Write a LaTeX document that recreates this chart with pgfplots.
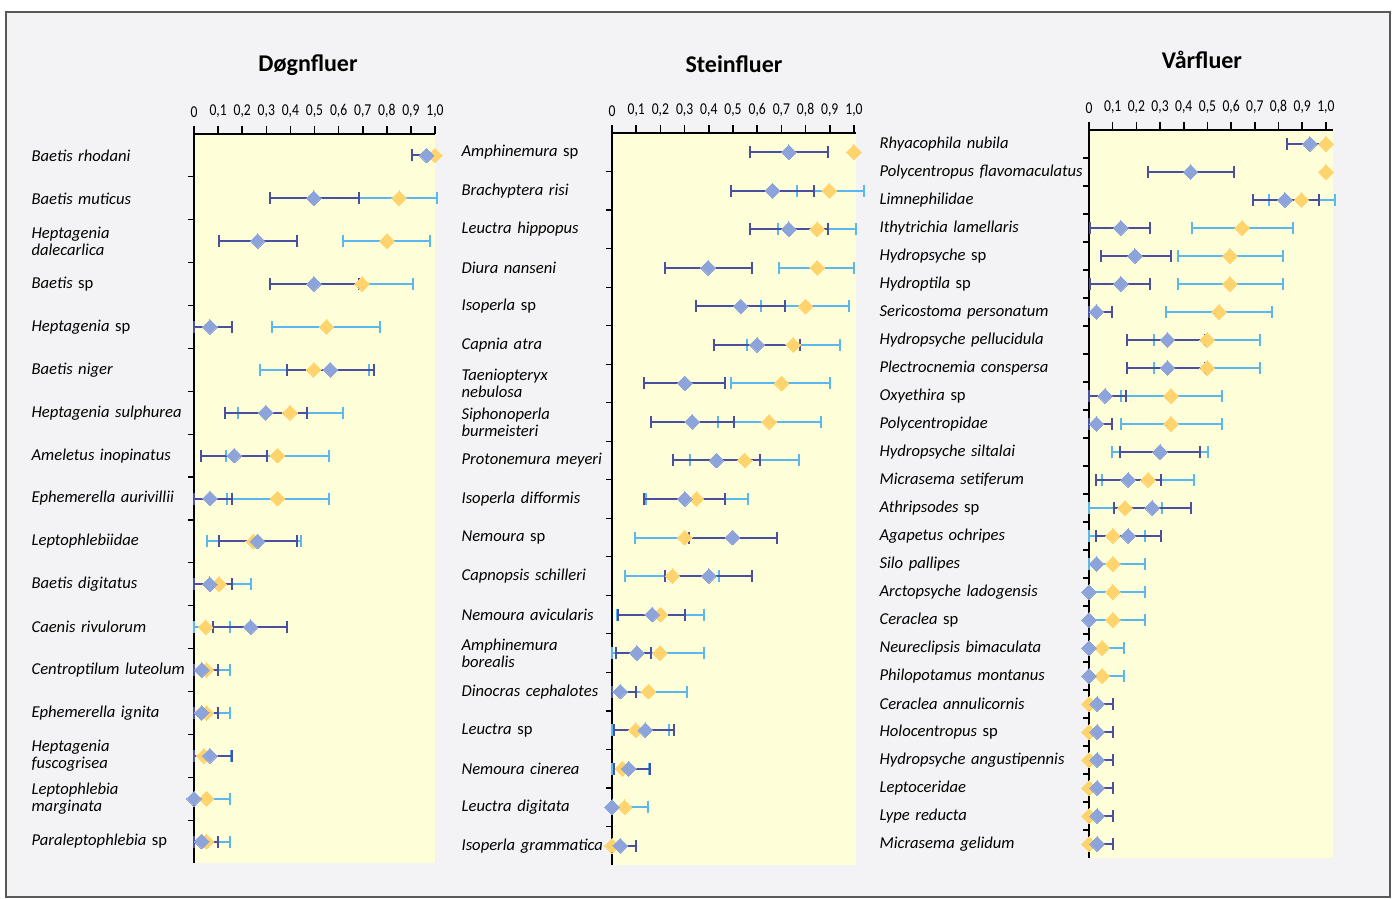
\documentclass[border=0pt]{standalone}
\usepackage{fontspec}
\setmainfont{Carlito}
\usepackage{graphicx}
\usepackage{pgfplots}
\usepackage{pgfplotstable}
\pgfplotsset{compat=1.18}
\definecolor{bgy}{HTML}{FEFED8}
\definecolor{framebg}{HTML}{F3F3F5}
\definecolor{bdia}{HTML}{8DA4DA}
\definecolor{bbar}{HTML}{4A50A0}
\definecolor{ydia}{HTML}{FFD46E}
\definecolor{ybar}{HTML}{5BB8EE}
\newcommand\sx[1]{\scalebox{0.82}[1]{#1}}

\pgfplotstableread{
r bm bl bh ym yl yh
1 0.965 0.905 1.0 1.0 1.0 1.0
2 0.497 0.315 0.684 0.851 0.684 1.01
3 0.264 0.104 0.428 0.801 0.619 0.978
4 0.497 0.315 0.685 0.698 0.685 0.909
5 0.066 0.0 0.156 0.55 0.323 0.773
6 0.566 0.384 0.746 0.497 0.273 0.727
7 0.298 0.130 0.467 0.398 0.181 0.619
8 0.167 0.029 0.302 0.347 0.133 0.562
9 0.066 0.0 0.157 0.347 0.135 0.562
10 0.264 0.104 0.428 0.246 0.055 0.442
11 0.066 0.0 0.157 0.104 0.0 0.235
12 0.235 0.079 0.387 0.048 0.0 0.148
13 0.032 0.0 0.098 0.052 0.0 0.149
14 0.032 0.0 0.098 0.052 0.0 0.149
15 0.066 0.0 0.156 0.041 0.0 0.152
16 0.0 0.0 0.0 0.052 0.0 0.149
17 0.032 0.0 0.098 0.052 0.0 0.149
}\tA

\pgfplotstableread{
r bm bl bh ym yl yh
1 0.731 0.570 0.892 1.0 1.0 1.0
2 0.663 0.490 0.836 0.898 0.763 1.04
3 0.731 0.570 0.892 0.848 0.688 1.008
4 0.397 0.218 0.577 0.848 0.690 1.0
5 0.532 0.349 0.714 0.800 0.617 0.978
6 0.600 0.421 0.777 0.749 0.556 0.942
7 0.301 0.131 0.466 0.701 0.491 0.901
8 0.332 0.160 0.505 0.650 0.436 0.862
9 0.432 0.250 0.612 0.549 0.324 0.772
10 0.301 0.131 0.468 0.349 0.140 0.561
11 0.498 0.317 0.683 0.301 0.094 0.317
12 0.400 0.221 0.579 0.250 0.055 0.441
13 0.166 0.025 0.303 0.201 0.020 0.379
14 0.103 0.018 0.160 0.199 0.0 0.379
15 0.034 0.0 0.100 0.150 0.0 0.310
16 0.138 0.007 0.255 0.098 0.0 0.236
17 0.069 0.010 0.159 0.043 0.0 0.152
18 0.0 0.0 0.0 0.052 0.0 0.149
19 0.034 0.0 0.100 0.0 0.0 0.0
}\tB

\pgfplotstableread{
r bm bl bh ym yl yh
1 0.932 0.837 1.0 1.0 1.0 1.0
2 0.429 0.248 0.612 1.0 1.0 1.0
3 0.827 0.693 0.970 0.897 0.759 1.04
4 0.134 0.004 0.257 0.647 0.433 0.862
5 0.194 0.051 0.345 0.595 0.374 0.817
6 0.134 0.004 0.257 0.595 0.374 0.817
7 0.032 0.0 0.096 0.549 0.323 0.774
8 0.331 0.159 0.490 0.499 0.274 0.722
9 0.331 0.159 0.490 0.499 0.274 0.722
10 0.068 0.0 0.156 0.346 0.135 0.561
11 0.032 0.0 0.098 0.346 0.135 0.563
12 0.300 0.131 0.470 0.300 0.096 0.504
13 0.166 0.030 0.302 0.250 0.053 0.443
14 0.267 0.105 0.429 0.152 0.0 0.309
15 0.166 0.030 0.302 0.100 0.0 0.236
16 0.032 0.032 0.032 0.100 0.0 0.236
17 0.0 0.0 0.0 0.100 0.0 0.236
18 0.0 0.0 0.0 0.100 0.0 0.236
19 0.0 0.0 0.0 0.056 0.0 0.149
20 0.0 0.0 0.0 0.056 0.0 0.149
21 0.035 0.0 0.100 0.0 0.0 0.0
22 0.035 0.0 0.100 0.0 0.0 0.0
23 0.035 0.0 0.100 0.0 0.0 0.0
24 0.035 0.0 0.100 0.0 0.0 0.0
25 0.035 0.0 0.100 0.0 0.0 0.0
26 0.035 0.0 0.100 0.0 0.0 0.0
}\tC

\pgfplotsset{
  panel/.style={
    scale only axis, y dir=reverse, xmin=0, ymin=0.5,
    axis x line*=top, axis y line*=left,
    axis line style={-, black, line width=0.8pt},
    axis background/.style={fill=bgy},
    xtick={0,0.1,0.2,0.3,0.4,0.5,0.6,0.7,0.8,0.9,1.0},
    xticklabels={\sx{0},\sx{0,1},\sx{0,2},\sx{0,3},\sx{0,4},\sx{0,5},\sx{0,6},\sx{0,7},\sx{0,8},\sx{0,9},\sx{1,0}},
    xtick align=outside, ytick align=outside,
    major tick length=4pt, minor tick length=3pt,
    x tick style={black, line width=0.8pt},
    major y tick style={draw=none},
    minor y tick style={black, line width=0.6pt},
    xticklabel style={font=\fontsize{8.3}{9}\selectfont, inner sep=0pt, yshift=4pt},
    yticklabel style={font=\fontsize{8.3}{8.4}\selectfont\itshape, inner sep=0pt, anchor=east, align=left},
    clip=false,
  },
  ebY/.style={draw=none, mark=none, forget plot,
    error bars/.cd, x dir=both, x explicit, error mark=|,
    error bar style={draw=ybar, line width=1pt},
    error mark options={draw=ybar, line width=1pt, mark size=3pt}},
  ebB/.style={draw=none, mark=none, forget plot,
    error bars/.cd, x dir=both, x explicit, error mark=|,
    error bar style={draw=bbar, line width=1pt},
    error mark options={draw=bbar, line width=1pt, mark size=3pt}},
  mkY/.style={only marks, color=ydia, mark=square*, mark size=2.6pt, mark options={rotate=45, fill=ydia, draw=ydia, line width=0pt}},
  mkB/.style={only marks, color=bdia, mark=square*, mark size=2.6pt, mark options={rotate=45, fill=bdia, draw=bdia, line width=0pt}},
}

\begin{document}
\begin{tikzpicture}
\path[use as bounding box] (0,0) rectangle (696pt,449.5pt);
\fill[white] (0,0) rectangle (696pt,449.5pt);
\draw[draw=black!65, line width=0.6pt, fill=framebg] (3pt,1pt) rectangle (695pt,443.5pt);

\node[font=\fontsize{12}{14}\selectfont\bfseries] at (154pt,417pt) {Døgnfluer};
\node[font=\fontsize{12}{14}\selectfont\bfseries] at (367pt,417.5pt) {Steinfluer};
\node[font=\fontsize{12}{14}\selectfont\bfseries] at (601pt,419.5pt) {Vårfluer};

% Panel 1
\begin{axis}[panel, at={(97pt,18pt)}, anchor=south west,
  width=120.5pt, height=364.5pt, xmax=1.0, ymax=17.5,
  ytick={1,...,17},
  minor ytick={1.5,2.5,...,16.5},
  yticklabel style={text width=77pt},
  yticklabels={{Baetis rhodani},{Baetis muticus},{Heptagenia\\dalecarlica},{Baetis \textup{sp}},{Heptagenia \textup{sp}},{Baetis niger},{Heptagenia sulphurea},{Ameletus inopinatus},{Ephemerella aurivillii},{Leptophlebiidae},{Baetis digitatus},{Caenis rivulorum},{Centroptilum luteolum},{Ephemerella ignita},{Heptagenia\\fuscogrisea},{Leptophlebia\\marginata},{Paraleptophlebia \textup{sp}}},
]
\addplot[ebY] table[x=ym, y=r, x error plus expr=\thisrow{yh}-\thisrow{ym}, x error minus expr=\thisrow{ym}-\thisrow{yl}] {\tA};
\addplot[ebB] table[x=bm, y=r, x error plus expr=\thisrow{bh}-\thisrow{bm}, x error minus expr=\thisrow{bm}-\thisrow{bl}] {\tA};
\addplot[mkY] table[x=ym, y=r] {\tA};
\addplot[mkB] table[x=bm, y=r] {\tA};
\end{axis}

% Panel 2
\begin{axis}[panel, at={(306pt,17pt)}, anchor=south west,
  width=122.2pt, height=366pt, xmax=1.01, ymax=19.5,
  ytick={1,...,19},
  minor ytick={1.5,2.5,...,18.5},
  yticklabel style={text width=71pt},
  yticklabels={{Amphinemura \textup{sp}},{Brachyptera risi},{Leuctra hippopus},{Diura nanseni},{Isoperla \textup{sp}},{Capnia atra},{Taeniopteryx\\nebulosa},{Siphonoperla\\burmeisteri},{Protonemura meyeri},{Isoperla difformis},{Nemoura \textup{sp}},{Capnopsis schilleri},{Nemoura avicularis},{Amphinemura\\borealis},{Dinocras cephalotes},{Leuctra \textup{sp}},{Nemoura cinerea},{Leuctra digitata},{Isoperla grammatica}},
]
\addplot[ebY] table[x=ym, y=r, x error plus expr=\thisrow{yh}-\thisrow{ym}, x error minus expr=\thisrow{ym}-\thisrow{yl}] {\tB};
\addplot[ebB] table[x=bm, y=r, x error plus expr=\thisrow{bh}-\thisrow{bm}, x error minus expr=\thisrow{bm}-\thisrow{bl}] {\tB};
\addplot[mkY] table[x=ym, y=r] {\tB};
\addplot[mkB] table[x=bm, y=r] {\tB};
\end{axis}

% Panel 3
\begin{axis}[panel, at={(544.5pt,20.5pt)}, anchor=south west,
  width=122pt, height=364pt, xmax=1.03, ymax=26.5,
  ytick={1,...,26},
  minor ytick={1.5,2.5,...,25.5},
  yticklabel style={text width=104pt, xshift=3.5pt},
  yticklabels={{Rhyacophila nubila},{Polycentropus flavomaculatus},{Limnephilidae},{Ithytrichia lamellaris},{Hydropsyche \textup{sp}},{Hydroptila \textup{sp}},{Sericostoma personatum},{Hydropsyche pellucidula},{Plectrocnemia conspersa},{Oxyethira \textup{sp}},{Polycentropidae},{Hydropsyche siltalai},{Micrasema setiferum},{Athripsodes \textup{sp}},{Agapetus ochripes},{Silo pallipes},{Arctopsyche ladogensis},{Ceraclea \textup{sp}},{Neureclipsis bimaculata},{Philopotamus montanus},{Ceraclea annulicornis},{Holocentropus \textup{sp}},{Hydropsyche angustipennis},{Leptoceridae},{Lype reducta},{Micrasema gelidum}},
]
\addplot[ebY] table[x=ym, y=r, x error plus expr=\thisrow{yh}-\thisrow{ym}, x error minus expr=\thisrow{ym}-\thisrow{yl}] {\tC};
\addplot[ebB] table[x=bm, y=r, x error plus expr=\thisrow{bh}-\thisrow{bm}, x error minus expr=\thisrow{bm}-\thisrow{bl}] {\tC};
\addplot[mkY] table[x=ym, y=r] {\tC};
\addplot[mkB] table[x=bm, y=r] {\tC};
\end{axis}
\end{tikzpicture}
\end{document}
